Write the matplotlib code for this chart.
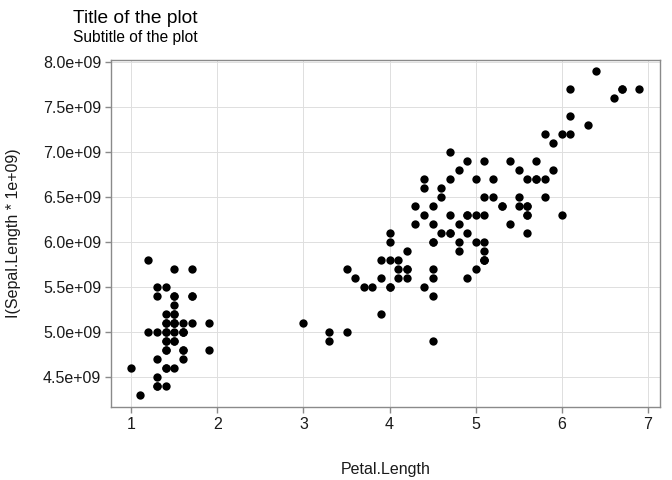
import numpy as np
import matplotlib
matplotlib.use("Agg")
import matplotlib.pyplot as plt
from matplotlib.ticker import FuncFormatter

plt.rcParams['font.family'] = ['Liberation Sans', 'DejaVu Sans']

# iris: Sepal.Length y Petal.Length
sepal_length = [
    5.1, 4.9, 4.7, 4.6, 5.0, 5.4, 4.6, 5.0, 4.4, 4.9, 5.4, 4.8, 4.8, 4.3, 5.8, 5.7, 5.4, 5.1, 5.7, 5.1,
    5.4, 5.1, 4.6, 5.1, 4.8, 5.0, 5.0, 5.2, 5.2, 4.7, 4.8, 5.4, 5.2, 5.5, 4.9, 5.0, 5.5, 4.9, 4.4, 5.1,
    5.0, 4.5, 4.4, 5.0, 5.1, 4.8, 5.1, 4.6, 5.3, 5.0,
    7.0, 6.4, 6.9, 5.5, 6.5, 5.7, 6.3, 4.9, 6.6, 5.2, 5.0, 5.9, 6.0, 6.1, 5.6, 6.7, 5.6, 5.8, 6.2, 5.6,
    5.9, 6.1, 6.3, 6.1, 6.4, 6.6, 6.8, 6.7, 6.0, 5.7, 5.5, 5.5, 5.8, 6.0, 5.4, 6.0, 6.7, 6.3, 5.6, 5.5,
    5.5, 6.1, 5.8, 5.0, 5.6, 5.7, 5.7, 6.2, 5.1, 5.7,
    6.3, 5.8, 7.1, 6.3, 6.5, 7.6, 4.9, 7.3, 6.7, 7.2, 6.5, 6.4, 6.8, 5.7, 5.8, 6.4, 6.5, 7.7, 7.7, 6.0,
    6.9, 5.6, 7.7, 6.3, 6.7, 7.2, 6.2, 6.1, 6.4, 7.2, 7.4, 7.9, 6.4, 6.3, 6.1, 7.7, 6.3, 6.4, 6.0, 6.9,
    6.7, 6.9, 5.8, 6.8, 6.7, 6.7, 6.3, 6.5, 6.2, 5.9,
]
petal_length = [
    1.4, 1.4, 1.3, 1.5, 1.4, 1.7, 1.4, 1.5, 1.4, 1.5, 1.5, 1.6, 1.4, 1.1, 1.2, 1.5, 1.3, 1.4, 1.7, 1.5,
    1.7, 1.5, 1.0, 1.7, 1.9, 1.6, 1.6, 1.5, 1.4, 1.6, 1.6, 1.5, 1.5, 1.4, 1.5, 1.2, 1.3, 1.4, 1.3, 1.5,
    1.3, 1.3, 1.3, 1.6, 1.9, 1.4, 1.6, 1.4, 1.5, 1.4,
    4.7, 4.5, 4.9, 4.0, 4.6, 4.5, 4.7, 3.3, 4.6, 3.9, 3.5, 4.2, 4.0, 4.7, 3.6, 4.4, 4.5, 4.1, 4.5, 3.9,
    4.8, 4.0, 4.9, 4.7, 4.3, 4.4, 4.8, 5.0, 4.5, 3.5, 3.8, 3.7, 3.9, 5.1, 4.5, 4.5, 4.7, 4.4, 4.1, 4.0,
    4.4, 4.6, 4.0, 3.3, 4.2, 4.2, 4.2, 4.3, 3.0, 4.1,
    6.0, 5.1, 5.9, 5.6, 5.8, 6.6, 4.5, 6.3, 5.8, 6.1, 5.1, 5.3, 5.5, 5.0, 5.1, 5.3, 5.5, 6.7, 6.9, 5.0,
    5.7, 4.9, 6.7, 4.9, 5.7, 6.0, 4.8, 4.9, 5.6, 5.8, 6.1, 6.4, 5.6, 5.1, 5.6, 6.1, 5.6, 5.5, 4.8, 5.4,
    5.6, 5.1, 5.1, 5.9, 5.7, 5.2, 5.0, 5.2, 5.4, 5.1,
]
escala = 1e9
x_ticks = [1, 2, 3, 4, 5, 6, 7]
y_ticks = [4.5e9, 5.0e9, 5.5e9, 6.0e9, 6.5e9, 7.0e9, 7.5e9, 8.0e9]

y = np.array(sepal_length) * escala
x = np.array(petal_length)

fig = plt.figure(figsize=(6.72, 4.8), dpi=100)
ax = fig.add_axes([0.1652, 0.152, 0.817, 0.723])

ax.scatter(x, y, s=36, color='black', linewidths=0, zorder=3)

ax.set_xlim(0.765, 7.14)
ax.set_ylim(4.17e9, 8.026e9)
ax.set_xticks(x_ticks)
ax.set_yticks(y_ticks)
ax.xaxis.set_major_formatter(FuncFormatter(lambda v, p: f"{v:g}"))
ax.yaxis.set_major_formatter(FuncFormatter(lambda v, p: f"{v:.1e}"))

ax.grid(True, color='#dedede', linewidth=0.7, zorder=0)
for s in ax.spines.values():
    s.set_color('#8a8a8a')
    s.set_linewidth(1.0)
ax.tick_params(axis='both', colors='#8a8a8a', length=4, width=1.0,
               labelcolor='#1a1a1a', labelsize=11.5, pad=3)

ax.set_xlabel('Petal.Length', fontsize=11.5, color='#1a1a1a', labelpad=22)
ax.set_ylabel('I(Sepal.Length * 1e+09)', fontsize=11.5, color='#1a1a1a', labelpad=16)

fig.text(0.1086, 0.962, 'Title of the plot', fontsize=13.8, color='black', va='center', ha='left')
fig.text(0.1086, 0.922, 'Subtitle of the plot', fontsize=11.2, color='black', va='center', ha='left')

fig.savefig('out.png', dpi=100)
